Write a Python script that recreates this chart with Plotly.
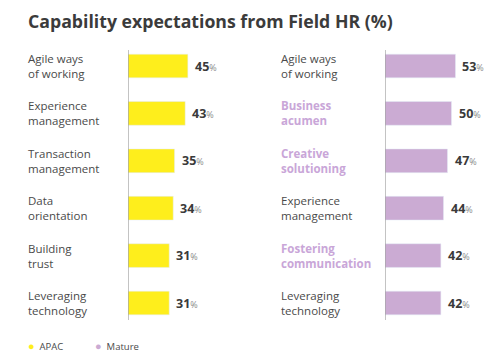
import plotly.graph_objects as go

title = "Capability expectations from Field HR (%)"
apac_labels = ["Agile ways<br>of working", "Experience<br>management", "Transaction<br>management",
               "Data<br>orientation", "Building<br>trust", "Leveraging<br>technology"]
apac_values = [45, 43, 35, 34, 31, 31]
mature_labels = ["Agile ways<br>of working", "Business<br>acumen", "Creative<br>solutioning",
                 "Experience<br>management", "Fostering<br>communication", "Leveraging<br>technology"]
mature_values = [53, 50, 47, 44, 42, 42]
mature_highlight = [False, True, True, False, True, False]
series_names = ["APAC", "Mature"]

YELLOW = "#FEEE1C"
PURPLE = "#CBABD3"
HILITE = "#C9A6D8"
TEXT = "#4a4a4a"
FONT = "Open Sans"

W, H = 500, 363
px_per_unit = 1.33

def px2paper_y(p):
    return 1 - p / H

fig = go.Figure()
fig.add_trace(go.Bar(y=apac_labels, x=apac_values, orientation="h", marker_color=YELLOW,
                     width=0.5, xaxis="x", yaxis="y", showlegend=False, hoverinfo="skip"))
fig.add_trace(go.Bar(y=mature_labels, x=mature_values, orientation="h", marker_color=PURPLE,
                     width=0.5, xaxis="x2", yaxis="y2", showlegend=False, hoverinfo="skip"))

ydom = [px2paper_y(326.7), px2paper_y(42.3)]
lx0, lx1 = 128, 250
rx0, rx1 = 385, 500
fig.update_layout(
    width=W, height=H, margin=dict(l=0, r=0, t=0, b=0),
    paper_bgcolor="white", plot_bgcolor="white",
    font=dict(family=FONT, color=TEXT),
    bargap=0.5,
    xaxis=dict(domain=[lx0 / W, lx1 / W], range=[0, (lx1 - lx0) / px_per_unit], visible=False),
    xaxis2=dict(domain=[rx0 / W, rx1 / W], range=[0, (rx1 - rx0) / px_per_unit], visible=False),
    yaxis=dict(domain=ydom, anchor="x", autorange="reversed", showticklabels=False,
               showgrid=False, zeroline=False, categoryorder="array", categoryarray=apac_labels),
    yaxis2=dict(domain=ydom, anchor="x2", autorange="reversed", showticklabels=False,
                showgrid=False, zeroline=False, categoryorder="array", categoryarray=mature_labels),
)

# vertical axis lines
for xr, yr in [("x", "y"), ("x2", "y2")]:
    fig.add_shape(type="line", xref=xr, yref=yr, x0=0, x1=0, y0=-0.34, y1=5.36,
                  line=dict(color="#9a9a9a", width=1.2))

ann = []
ann.append(dict(text="<b>" + title + "</b>", xref="paper", yref="paper", x=26 / W, y=px2paper_y(21),
                xanchor="left", yanchor="middle", showarrow=False,
                font=dict(size=17.7, color="#3b3b3b", family=FONT)))

def val_text(v):
    return "<b>%d</b><span style='font-size:9px;color:#8a8a8a'>%%</span>" % v

for lab, v in zip(apac_labels, apac_values):
    ann.append(dict(text=lab, xref="paper", yref="y", x=26 / W, y=lab, xanchor="left", yanchor="middle",
                    align="left", showarrow=False, font=dict(size=11.5, color=TEXT)))
    ann.append(dict(text=val_text(v), xref="x", yref="y", x=v, y=lab, xanchor="left", yanchor="middle",
                    xshift=5, showarrow=False, font=dict(size=12.5, color="#3a3a3a")))
for lab, v, hl in zip(mature_labels, mature_values, mature_highlight):
    ann.append(dict(text=("<b>%s</b>" % lab) if hl else lab, xref="paper", yref="y2", x=279 / W, y=lab,
                    xanchor="left", yanchor="middle", align="left", showarrow=False,
                    font=dict(size=11.5, color=HILITE if hl else TEXT)))
    ann.append(dict(text=val_text(v), xref="x2", yref="y2", x=v, y=lab, xanchor="left", yanchor="middle",
                    xshift=5, showarrow=False, font=dict(size=12.5, color="#3a3a3a")))

# legend
for name, col, xp in zip(series_names, [YELLOW, PURPLE], [26, 93]):
    ann.append(dict(text="<span style='color:%s;font-size:11px'>●</span>  %s" % (col, name),
                    xref="paper", yref="paper", x=xp / W, y=px2paper_y(345), xanchor="left",
                    yanchor="middle", showarrow=False, font=dict(size=9.5, color=TEXT)))

fig.update_layout(annotations=ann)
fig.write_html("out.html", config={"displayModeBar": False},
               post_script="document.body.style.margin='0';")
